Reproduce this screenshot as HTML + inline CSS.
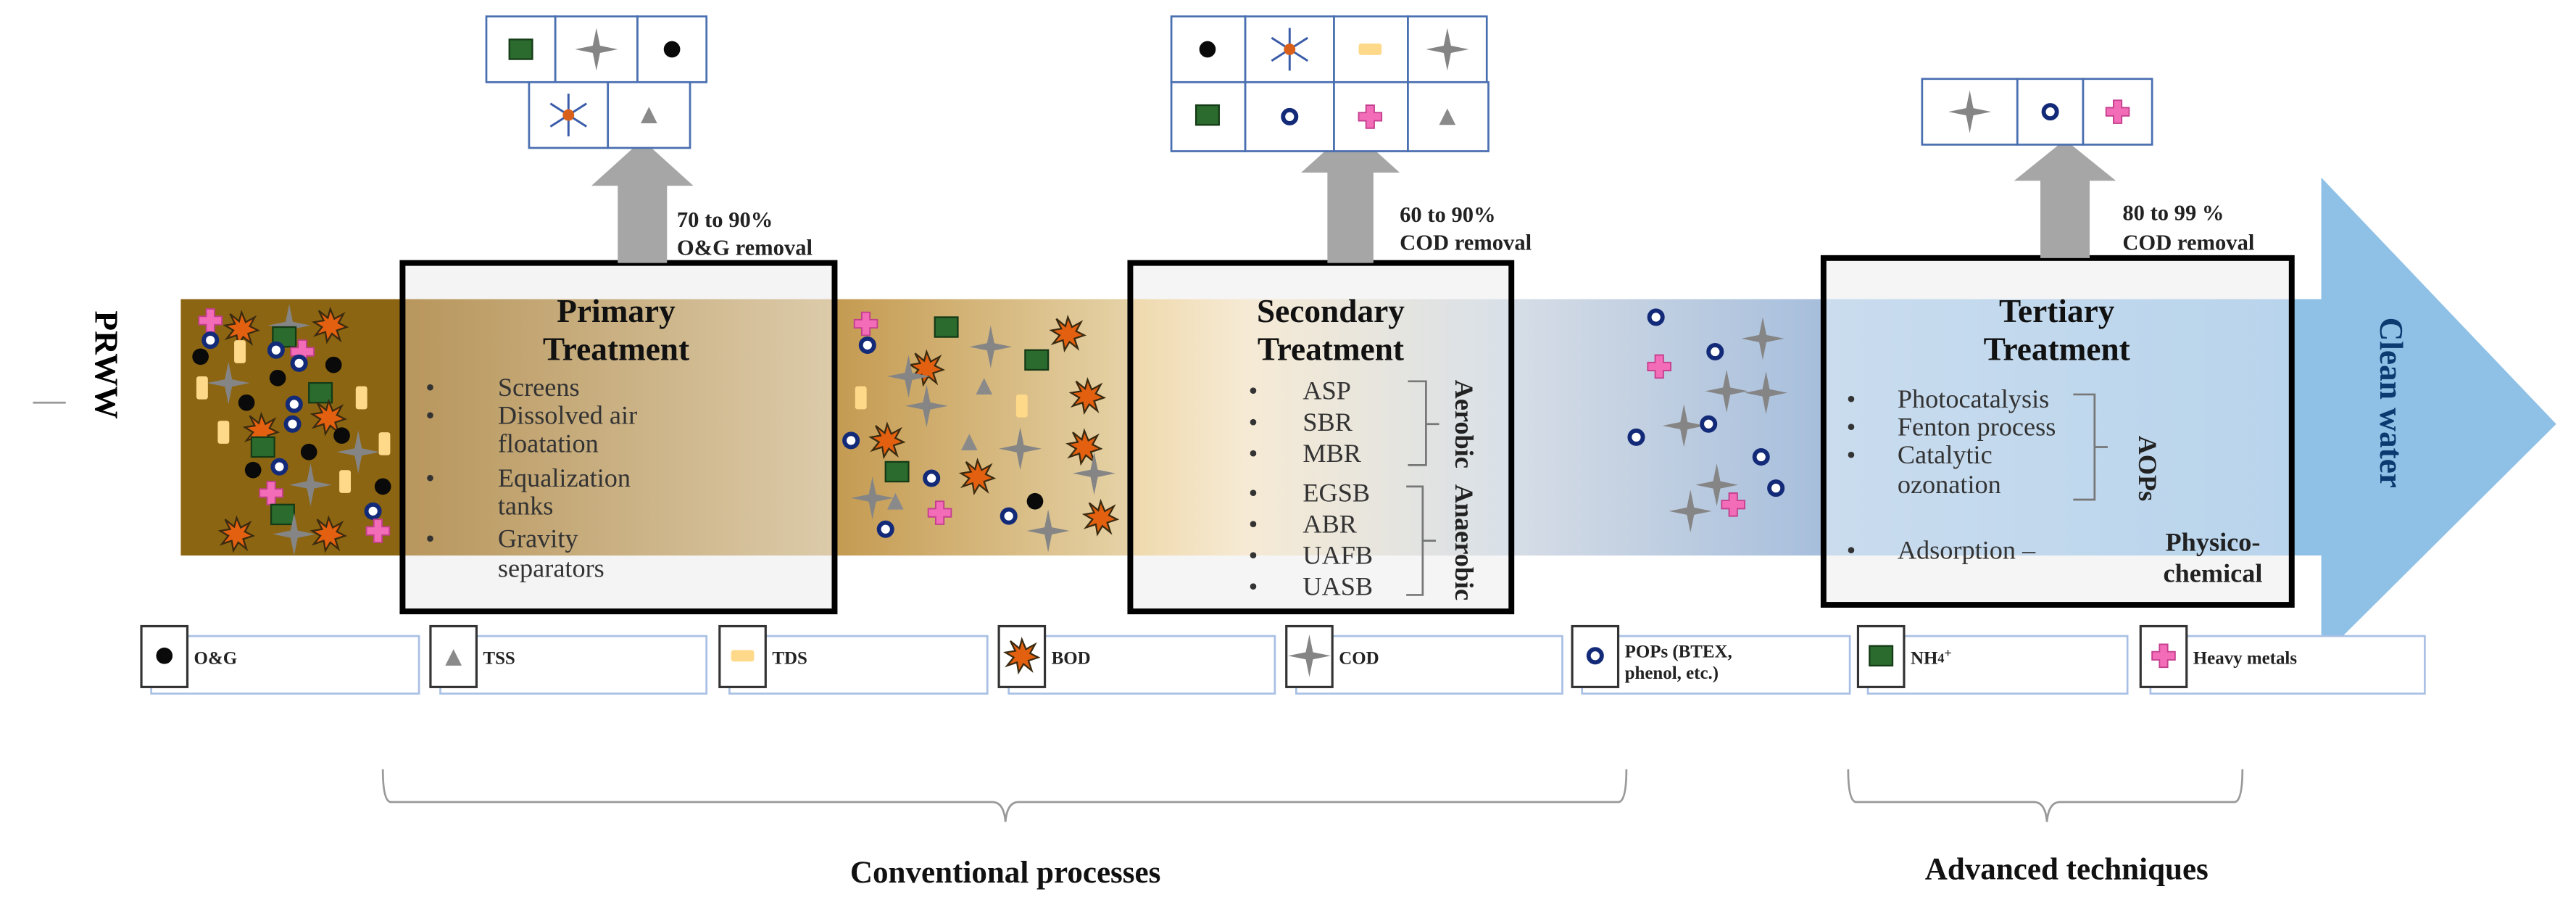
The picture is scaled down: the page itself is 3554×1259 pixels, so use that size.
<!DOCTYPE html>
<html><head><meta charset="utf-8"><style>
html,body{margin:0;padding:0;background:#fff;}
svg{display:block;}
text{font-family:"Liberation Serif",serif;}
</style></head><body>
<svg width="3554" height="1259" viewBox="0 0 1568 555.5" xmlns="http://www.w3.org/2000/svg">
<defs>
<linearGradient id="gPri" x1="0" x2="1"><stop offset="0" stop-color="#b8965c"/><stop offset="1" stop-color="#dccbaa"/></linearGradient>
<linearGradient id="gMid1" x1="0" x2="1"><stop offset="0" stop-color="#c49a50"/><stop offset="1" stop-color="#e6d3a8"/></linearGradient>
<linearGradient id="gSec" x1="0" x2="1"><stop offset="0" stop-color="#efd9ac"/><stop offset="0.3" stop-color="#f6ead4"/><stop offset="1" stop-color="#d8e0e8"/></linearGradient>
<linearGradient id="gMid2" x1="0" x2="1"><stop offset="0" stop-color="#d6dde6"/><stop offset="1" stop-color="#a6bedc"/></linearGradient>
<linearGradient id="gTer" x1="0" x2="1"><stop offset="0" stop-color="#cadcee"/><stop offset="1" stop-color="#b8d4ec"/></linearGradient>
<symbol id="star" viewBox="-13 -13 26 26" overflow="visible"><path d="M0,-13 L2.2,-2.2 L13,0 L2.2,2.2 L0,13 L-2.2,2.2 L-13,0 L-2.2,-2.2Z" fill="#858585"/></symbol>
<symbol id="burst" viewBox="-10 -10 20 20" overflow="visible"><path d="M0,-10 L2.5,-4 L8,-7 L5,-1.5 L10,1 L4,3 L6,9 L1,5 L-2,10 L-3,4 L-9,6 L-5,1 L-10,-2 L-4,-3 L-7,-9 L-1.5,-4.5Z" fill="#e2600f" stroke="#3a2a10" stroke-width="1"/></symbol>
<symbol id="ring" viewBox="-6 -6 12 12" overflow="visible"><circle r="4" fill="#fff" stroke="#132a78" stroke-width="2.6"/></symbol>
<symbol id="plus" viewBox="-7 -7 14 14" overflow="visible"><path d="M-2.5,-7 H2.5 V-2.5 H7 V2.5 H2.5 V7 H-2.5 V2.5 H-7 V-2.5 H-2.5Z" fill="#f36cb8" stroke="#c43e8e" stroke-width="0.8"/></symbol>
<symbol id="gsq" viewBox="-7 -7 14 14" overflow="visible"><rect x="-7" y="-6" width="14" height="12" fill="#2b6b2e" stroke="#143a16" stroke-width="1"/></symbol>
<symbol id="ylw" viewBox="-4 -7 8 14" overflow="visible"><rect x="-3.5" y="-7" width="7" height="14" rx="1.5" fill="#ffd98a"/></symbol>
<symbol id="dot" viewBox="-5 -5 10 10" overflow="visible"><circle r="5" fill="#0a0a0a"/></symbol>
<symbol id="tri" viewBox="-5 -5 10 10" overflow="visible"><path d="M0,-5 L5,5 L-5,5Z" fill="#8a8a8a"/></symbol>
<symbol id="ast" viewBox="-12 -12 24 24" overflow="visible"><g stroke="#3a5ca8" stroke-width="1.3"><line x1="0" y1="-13" x2="0" y2="13"/><line x1="-11" y1="-7" x2="11" y2="7"/><line x1="-11" y1="7" x2="11" y2="-7"/></g><circle r="3.5" fill="#d9601a"/></symbol>
</defs>

<!-- PRWW -->
<line x1="20" y1="245" x2="40" y2="245" stroke="#999" stroke-width="1.2"/>
<text transform="translate(58,222) rotate(90)" text-anchor="middle" font-size="20" font-weight="bold">PRWW</text>

<!-- Big output arrow -->
<polygon points="1395,182 1413,182 1413,108 1556,258 1413,400 1413,338 1395,338" fill="#8fc1e7"/>

<!-- band -->
<rect x="110" y="182" width="136" height="156" fill="#8c6512"/>
<rect x="508" y="182" width="182" height="156" fill="url(#gMid1)"/>
<rect x="920" y="182" width="192" height="156" fill="url(#gMid2)"/>

<!-- Primary box -->
<rect x="245" y="160" width="263" height="212" fill="#f4f4f4"/>
<rect x="245" y="182" width="263" height="156" fill="url(#gPri)"/>
<!-- Secondary box -->
<rect x="688" y="160" width="232" height="212" fill="#f5f5f5"/>
<rect x="688" y="182" width="232" height="156" fill="url(#gSec)"/>
<!-- Tertiary box -->
<rect x="1110" y="157" width="285" height="211" fill="#f5f5f5"/>
<rect x="1110" y="182" width="285" height="156" fill="url(#gTer)"/>

<!-- particles left -->
<g>
<use href="#plus" x="121" y="188" width="14" height="14"/>
<use href="#burst" x="137" y="190" width="20" height="20"/>
<use href="#star" x="163" y="185" width="26" height="26"/>
<use href="#burst" x="191" y="188" width="20" height="20"/>
<use href="#gsq" x="166" y="198" width="14" height="14"/>
<use href="#ring" x="122" y="201" width="12" height="12"/>
<use href="#dot" x="117" y="212" width="10" height="10"/>
<use href="#ylw" x="142" y="207" width="8" height="14"/>
<use href="#ring" x="162" y="207" width="12" height="12"/>
<use href="#plus" x="177" y="207" width="14" height="14"/>
<use href="#ring" x="176" y="215" width="12" height="12"/>
<use href="#dot" x="198" y="217" width="10" height="10"/>
<use href="#star" x="126" y="220" width="26" height="26"/>
<use href="#dot" x="164" y="225" width="10" height="10"/>
<use href="#ylw" x="119" y="229" width="8" height="14"/>
<use href="#gsq" x="188" y="232" width="14" height="14"/>
<use href="#ylw" x="216" y="235" width="8" height="14"/>
<use href="#dot" x="145" y="240" width="10" height="10"/>
<use href="#ring" x="173" y="240" width="12" height="12"/>
<use href="#burst" x="190" y="244" width="20" height="20"/>
<use href="#ring" x="172" y="252" width="12" height="12"/>
<use href="#burst" x="149" y="252" width="20" height="20"/>
<use href="#ylw" x="132" y="256" width="8" height="14"/>
<use href="#dot" x="203" y="260" width="10" height="10"/>
<use href="#gsq" x="153" y="265" width="14" height="14"/>
<use href="#ylw" x="230" y="263" width="8" height="14"/>
<use href="#star" x="205" y="262" width="26" height="26"/>
<use href="#dot" x="183" y="270" width="10" height="10"/>
<use href="#dot" x="149" y="281" width="10" height="10"/>
<use href="#ring" x="164" y="278" width="12" height="12"/>
<use href="#star" x="176" y="282" width="26" height="26"/>
<use href="#ylw" x="206" y="286" width="8" height="14"/>
<use href="#plus" x="158" y="293" width="14" height="14"/>
<use href="#dot" x="228" y="291" width="10" height="10"/>
<use href="#ring" x="221" y="305" width="12" height="12"/>
<use href="#gsq" x="165" y="306" width="14" height="14"/>
<use href="#burst" x="134" y="315" width="20" height="20"/>
<use href="#burst" x="190" y="315" width="20" height="20"/>
<use href="#star" x="166" y="312" width="26" height="26"/>
<use href="#plus" x="223" y="316" width="14" height="14"/>
</g>
<!-- particles middle -->
<g>
<use href="#plus" x="520" y="190" width="14" height="14"/>
<use href="#gsq" x="569" y="192" width="14" height="14"/>
<use href="#burst" x="640" y="193" width="20" height="20"/>
<use href="#ring" x="522" y="204" width="12" height="12"/>
<use href="#star" x="590" y="198" width="26" height="26"/>
<use href="#gsq" x="624" y="212" width="14" height="14"/>
<use href="#burst" x="554" y="214" width="20" height="20"/>
<use href="#star" x="540" y="216" width="26" height="26"/>
<use href="#tri" x="594" y="230" width="10" height="10"/>
<use href="#ylw" x="520" y="235" width="8" height="14"/>
<use href="#star" x="551" y="234" width="26" height="26"/>
<use href="#ylw" x="618" y="240" width="8" height="14"/>
<use href="#burst" x="652" y="231" width="20" height="20"/>
<use href="#ring" x="512" y="262" width="12" height="12"/>
<use href="#burst" x="530" y="258" width="20" height="20"/>
<use href="#tri" x="585" y="264" width="10" height="10"/>
<use href="#star" x="608" y="260" width="26" height="26"/>
<use href="#burst" x="650" y="262" width="20" height="20"/>
<use href="#gsq" x="539" y="280" width="14" height="14"/>
<use href="#burst" x="585" y="280" width="20" height="20"/>
<use href="#star" x="653" y="275" width="26" height="26"/>
<use href="#ring" x="561" y="285" width="12" height="12"/>
<use href="#star" x="518" y="290" width="26" height="26"/>
<use href="#tri" x="540" y="300" width="10" height="10"/>
<use href="#dot" x="625" y="300" width="10" height="10"/>
<use href="#ring" x="608" y="308" width="12" height="12"/>
<use href="#plus" x="565" y="305" width="14" height="14"/>
<use href="#ring" x="533" y="316" width="12" height="12"/>
<use href="#star" x="625" y="310" width="26" height="26"/>
<use href="#burst" x="660" y="305" width="20" height="20"/>
</g>
<!-- particles blue -->
<g>
<use href="#ring" x="1002" y="187" width="12" height="12"/>
<use href="#star" x="1060" y="193" width="26" height="26"/>
<use href="#plus" x="1003" y="216" width="14" height="14"/>
<use href="#ring" x="1038" y="208" width="12" height="12"/>
<use href="#star" x="1038" y="225" width="26" height="26"/>
<use href="#star" x="1062" y="226" width="26" height="26"/>
<use href="#star" x="1012" y="246" width="26" height="26"/>
<use href="#ring" x="1034" y="252" width="12" height="12"/>
<use href="#ring" x="990" y="260" width="12" height="12"/>
<use href="#ring" x="1066" y="272" width="12" height="12"/>
<use href="#star" x="1032" y="282" width="26" height="26"/>
<use href="#ring" x="1075" y="291" width="12" height="12"/>
<use href="#plus" x="1048" y="300" width="14" height="14"/>
<use href="#star" x="1016" y="298" width="26" height="26"/>
</g>

<!-- box borders -->
<rect x="245" y="160" width="263" height="212" fill="none" stroke="#000" stroke-width="3.5"/>
<rect x="688" y="160" width="232" height="212" fill="none" stroke="#000" stroke-width="3.5"/>
<rect x="1110" y="157" width="285" height="211" fill="none" stroke="#000" stroke-width="3.5"/>

<!-- Primary text -->
<g font-size="20" font-weight="bold" text-anchor="middle" fill="#111">
<text x="375" y="196">Primary</text><text x="375" y="219">Treatment</text>
<text x="810" y="196">Secondary</text><text x="810" y="219">Treatment</text>
<text x="1252" y="196">Tertiary</text><text x="1252" y="219">Treatment</text>
</g>
<g font-size="16" fill="#333">
<text x="259" y="241">•</text><text x="303" y="241">Screens</text>
<text x="259" y="258">•</text><text x="303" y="258">Dissolved air</text>
<text x="303" y="275">floatation</text>
<text x="259" y="296">•</text><text x="303" y="296">Equalization</text>
<text x="303" y="313">tanks</text>
<text x="259" y="333">•</text><text x="303" y="333">Gravity</text>
<text x="303" y="351">separators</text>

<text x="760" y="243">•</text><text x="793" y="243">ASP</text>
<text x="760" y="262">•</text><text x="793" y="262">SBR</text>
<text x="760" y="281">•</text><text x="793" y="281">MBR</text>
<text x="760" y="305">•</text><text x="793" y="305">EGSB</text>
<text x="760" y="324">•</text><text x="793" y="324">ABR</text>
<text x="760" y="343">•</text><text x="793" y="343">UAFB</text>
<text x="760" y="362">•</text><text x="793" y="362">UASB</text>

<text x="1124" y="248">•</text><text x="1155" y="248">Photocatalysis</text>
<text x="1124" y="265">•</text><text x="1155" y="265">Fenton process</text>
<text x="1124" y="282">•</text><text x="1155" y="282">Catalytic</text>
<text x="1155" y="300">ozonation</text>
<text x="1124" y="340">•</text><text x="1155" y="340">Adsorption –</text>
</g>
<!-- brackets -->
<g fill="none" stroke="#777" stroke-width="1.2">
<path d="M857,232 H868 V283 H857 M868,258 H876"/>
<path d="M856,296 H866 V362 H856 M866,329 H874"/>
<path d="M1262,240 H1275 V304 H1262 M1275,272 H1283"/>
</g>
<g font-size="16" font-weight="bold" fill="#222">
<text transform="translate(886,258) rotate(90)" text-anchor="middle">Aerobic</text>
<text transform="translate(886,330) rotate(90)" text-anchor="middle">Anaerobic</text>
<text transform="translate(1302,285) rotate(90)" text-anchor="middle">AOPs</text>
<text x="1347" y="335" text-anchor="middle">Physico-</text>
<text x="1347" y="354" text-anchor="middle">chemical</text>
</g>
<text transform="translate(1449,245) rotate(90)" text-anchor="middle" font-size="20" font-weight="bold" fill="#0b3a70">Clean water</text>

<!-- gray up arrows -->
<g fill="#a6a6a6">
<polygon points="376,160 376,113 360,113 391,85 422,113 406,113 406,160"/>
<polygon points="808,160 808,105 792,105 822,78 852,105 836,105 836,160"/>
<polygon points="1242,157 1242,110 1226,110 1257,85 1288,110 1272,110 1272,157"/>
</g>
<g font-size="13.5" font-weight="bold" fill="#222">
<text x="412" y="138">70 to 90%</text><text x="412" y="155">O&amp;G removal</text>
<text x="852" y="135">60 to 90%</text><text x="852" y="152">COD removal</text>
<text x="1292" y="134">80 to 99 %</text><text x="1292" y="152">COD removal</text>
</g>

<!-- icon grids -->
<g fill="#fff" stroke="#4a6fb0" stroke-width="1.2">
<rect x="296" y="10" width="42" height="40"/><rect x="338" y="10" width="50" height="40"/><rect x="388" y="10" width="42" height="40"/>
<rect x="322" y="50" width="48" height="40"/><rect x="370" y="50" width="50" height="40"/>
<rect x="713" y="10" width="45" height="40"/><rect x="758" y="10" width="54" height="40"/><rect x="812" y="10" width="45" height="40"/><rect x="857" y="10" width="48" height="40"/>
<rect x="713" y="50" width="45" height="42"/><rect x="758" y="50" width="54" height="42"/><rect x="812" y="50" width="45" height="42"/><rect x="857" y="50" width="49" height="42"/>
<rect x="1170" y="48" width="58" height="40"/><rect x="1228" y="48" width="40" height="40"/><rect x="1268" y="48" width="42" height="40"/>
</g>
<use href="#gsq" x="310" y="23" width="14" height="14"/>
<use href="#star" x="350" y="17" width="26" height="26"/>
<use href="#dot" x="404" y="25" width="10" height="10"/>
<use href="#ast" x="334" y="58" width="24" height="24"/>
<use href="#tri" x="390" y="65" width="10" height="10"/>
<use href="#dot" x="730" y="25" width="10" height="10"/>
<use href="#ast" x="773" y="18" width="24" height="24"/>
<use href="#ylw" x="830" y="23" width="8" height="14" transform="rotate(90 834 30)"/>
<use href="#star" x="868" y="17" width="26" height="26"/>
<use href="#gsq" x="728" y="63" width="14" height="14"/>
<use href="#ring" x="779" y="65" width="12" height="12"/>
<use href="#plus" x="827" y="64" width="14" height="14"/>
<use href="#tri" x="876" y="66" width="10" height="10"/>
<use href="#star" x="1186" y="55" width="26" height="26"/>
<use href="#ring" x="1242" y="62" width="12" height="12"/>
<use href="#plus" x="1282" y="61" width="14" height="14"/>

<!-- legend -->
<g>
<g fill="#fff" stroke="#a9c0e4" stroke-width="1.2">
<rect x="92" y="387" width="163" height="35"/><rect x="268" y="387" width="162" height="35"/><rect x="444" y="387" width="157" height="35"/><rect x="614" y="387" width="162" height="35"/><rect x="789" y="387" width="162" height="35"/><rect x="963" y="387" width="163" height="35"/><rect x="1137" y="387" width="158" height="35"/><rect x="1309" y="387" width="167" height="35"/>
</g>
<g fill="#fff" stroke="#333" stroke-width="1.4">
<rect x="86" y="381" width="28" height="37"/><rect x="262" y="381" width="28" height="37"/><rect x="438" y="381" width="28" height="37"/><rect x="608" y="381" width="28" height="37"/><rect x="783" y="381" width="28" height="37"/><rect x="957" y="381" width="28" height="37"/><rect x="1131" y="381" width="28" height="37"/><rect x="1303" y="381" width="28" height="37"/>
</g>
<use href="#dot" x="95" y="394" width="10" height="10"/>
<use href="#tri" x="271" y="395" width="10" height="10"/>
<use href="#ylw" x="448" y="392" width="8" height="14" transform="rotate(90 452 399)"/>
<use href="#burst" x="612" y="389" width="20" height="20"/>
<use href="#star" x="784" y="386" width="26" height="26"/>
<use href="#ring" x="965" y="393" width="12" height="12"/>
<use href="#gsq" x="1138" y="392" width="14" height="14"/>
<use href="#plus" x="1310" y="392" width="14" height="14"/>
<g font-size="11" font-weight="bold" fill="#222">
<text x="118" y="404">O&amp;G</text>
<text x="294" y="404">TSS</text>
<text x="470" y="404">TDS</text>
<text x="640" y="404">BOD</text>
<text x="815" y="404">COD</text>
<text x="989" y="400">POPs (BTEX,</text><text x="989" y="413">phenol, etc.)</text>
<text x="1163" y="404">NH<tspan font-size="8" dy="-1">4</tspan><tspan font-size="8" dy="-3">+</tspan></text>
<text x="1335" y="404">Heavy metals</text>
</g>
</g>

<!-- braces -->
<g fill="none" stroke="#999" stroke-width="1.2">
<path d="M233,468 Q233,488 238,488 H604 Q611,488 612,500 Q613,488 620,488 H985 Q990,488 990,468"/>
<path d="M1125,468 Q1125,488 1130,488 H1238 Q1245,488 1246,500 Q1247,488 1254,488 H1360 Q1365,488 1365,468"/>
</g>
<g font-size="19" font-weight="bold" fill="#111" text-anchor="middle">
<text x="612" y="537">Conventional processes</text>
<text x="1258" y="535">Advanced techniques</text>
</g>
</svg>
</body></html>
